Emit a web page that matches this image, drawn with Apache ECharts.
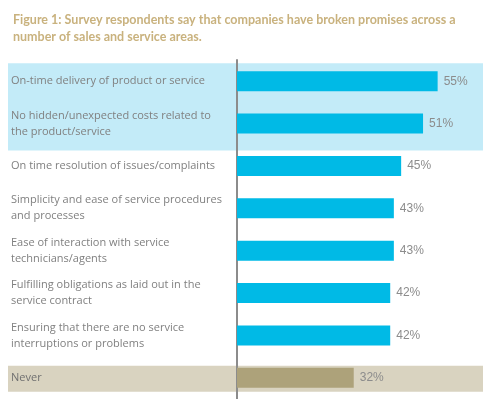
<!DOCTYPE html>
<html>
<head>
<meta charset="utf-8">
<script src="https://cdn.jsdelivr.net/npm/echarts@6/dist/echarts.min.js"></script>
<style>
  html, body { margin: 0; padding: 0; background: #fff; }
  #chart { width: 500px; height: 399px; }
</style>
</head>
<body>
<div id="chart"></div>
<script>
// 数据
const categories = [
  'On-time delivery of product or service',
  'No hidden/unexpected costs related to\nthe product/service',
  'On time resolution of issues/complaints',
  'Simplicity and ease of service procedures\nand processes',
  'Ease of interaction with service\ntechnicians/agents',
  'Fulfilling obligations as laid out in the\nservice contract',
  'Ensuring that there are no service\ninterruptions or problems',
  'Never'
];
const values = [55, 51, 45, 43, 43, 42, 42, 32];
const titleText = 'Figure 1: Survey respondents say that companies have broken promises across a\nnumber of sales and service areas.';

const chart = echarts.init(document.getElementById('chart'));

const option = {
  animation: false,
  title: {
    text: titleText,
    left: 8,
    top: 6,
    textStyle: {
      fontFamily: 'Lato',
      fontSize: 12.5,
      fontWeight: 'bold',
      color: '#c9b27e',
      lineHeight: 17
    }
  },
  grid: {
    left: 237,
    right: 4,
    top: 60,
    height: 343
  },
  xAxis: {
    type: 'value',
    min: 0,
    max: 71,
    show: false
  },
  yAxis: {
    type: 'category',
    data: categories,
    inverse: true,
    axisLine: { show: true, lineStyle: { color: '#8c8c8c', width: 2 } },
    axisTick: { show: false },
    axisLabel: {
      align: 'left',
      margin: 226,
      fontFamily: 'Open Sans',
      fontSize: 11,
      lineHeight: 16,
      color: (v) => v === 'Never' ? '#707070' : '#808080'
    }
  },
  series: [{
    type: 'bar',
    barWidth: 20,
    data: values.map((v, i) => ({
      value: v,
      itemStyle: { color: i === values.length - 1 ? '#ada27a' : '#00bae6' }
    })),
    label: {
      show: true,
      position: 'right',
      distance: 6,
      formatter: '{c}%',
      fontFamily: 'Liberation Sans',
      fontSize: 12,
      color: '#8c8c8c'
    }
  }]
};

chart.setOption(option);

// 背景色块
const y0 = chart.convertToPixel({ yAxisIndex: 0 }, categories[0]);
const y1 = chart.convertToPixel({ yAxisIndex: 0 }, categories[1]);
const y7 = chart.convertToPixel({ yAxisIndex: 0 }, categories[7]);
chart.setOption({
  graphic: [
    { type: 'rect', z: -10, shape: { x: 8, y: y0 - 18, width: 475, height: (y1 + 27) - (y0 - 18) }, style: { fill: '#c3ebf8' } },
    { type: 'rect', z: -10, shape: { x: 8, y: y7 - 12, width: 475, height: 26 }, style: { fill: '#d9d3c0' } }
  ]
});
</script>
</body>
</html>
